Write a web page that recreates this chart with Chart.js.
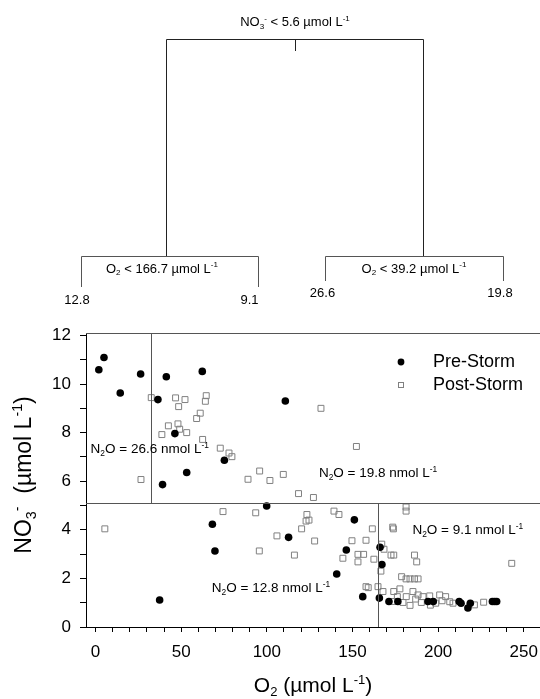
<!DOCTYPE html>
<html><head><meta charset="utf-8">
<script src="https://cdn.jsdelivr.net/npm/chart.js@4.4.1/dist/chart.umd.min.js"></script>
<style>html,body{margin:0;padding:0;background:#fff;}#wrap{width:540px;height:699px;position:relative;}</style>
</head><body><div id="wrap"><canvas id="c" width="540" height="699"></canvas></div>
<script>
// ---- Data ----
const preStormO2  = [1.9,4.9,14.4,26.3,41.3,62.3,36.4,46.3,53.2,39.1,37.4,68.2,69.7,110.8,75.2,99.9,112.7,151.1,146.4,140.8,166.1,167.2,156,165.7,171.3,176.5,194.1,197.2,212.3,213.4,218.8,217.4,231.7,233,234.2];
const preStormNO3 = [10.59,11.09,9.63,10.41,10.3,10.52,9.36,7.96,6.36,5.86,1.11,4.23,3.13,9.3,6.86,4.98,3.69,4.41,3.17,2.18,3.28,2.57,1.25,1.19,1.05,1.05,1.05,1.05,1.05,0.98,0.98,0.78,1.05,1.05,1.05];
const postStormO2  = [32.5,46.7,52.2,48.5,64.6,64.1,61.1,59,42.5,48.1,49.1,38.7,53.2,62.5,72.8,77.9,79.6,26.5,5.4,131.6,152.3,89,95.8,101.8,109.6,118.5,127.2,74.4,93.5,95.6,105.9,116.1,123.4,122.9,124.6,120.3,127.9,139.2,142.1,149.7,144.4,153.2,153.2,181.3,181.3,161.6,173.5,173.9,157.9,167.1,168.4,156.5,162.5,172.5,174.1,186.2,187.5,166.6,243,178.7,181.3,183.6,186.2,188.3,157.9,159.2,164.9,167.8,174.1,177.7,176.2,181.4,183.6,179.5,188.3,190.2,195.1,195.5,200.9,202.3,204.4,206.8,208.7,226.6,221.2,185.3,186.9,198.6,191.2,173.7];
const postStormNO3 = [9.44,9.43,9.36,9.07,9.52,9.29,8.8,8.58,8.28,8.36,8.14,7.92,8.0,7.72,7.36,7.16,7.01,6.07,4.04,9.0,7.43,6.08,6.42,6.03,6.28,5.49,5.33,4.75,4.70,3.13,3.75,2.96,4.63,4.36,4.4,4.04,3.54,4.77,4.63,3.55,2.83,2.99,2.68,4.94,4.77,4.04,4.11,4.04,3.57,3.41,3.2,2.99,2.79,2.96,2.96,2.96,2.68,2.3,2.62,2.07,1.98,1.98,1.98,1.98,1.66,1.62,1.66,1.46,1.46,1.57,1.25,1.25,0.89,1.01,1.32,1.01,1.28,0.9,1.32,1.08,1.25,1.04,0.98,1.02,0.91,1.46,1.15,0.98,1.25,1.05];
const seriesNames = ['Pre-Storm','Post-Storm'];
const xMajorTicks = [0,50,100,150,200,250];
const yMajorTicks = [0,2,4,6,8,10,12];
// split lines drawn in the scatter (as drawn in the picture)
const splitNO3 = 5.1;      // horizontal split
const splitO2High = 32.6;  // vertical split above
const splitO2Low = 165;    // vertical split below
// N2O leaf labels (value, O2 anchor, NO3 anchor)
const leafN2O   = ['26.6','19.8','9.1','12.8'];
const leafAnchX = [-2.9,130.4,185,67.9];
const leafAnchY = [7.35,6.38,4.02,1.64];
// regression tree
const rootSplit = '5.6';
const childSplits = ['166.7','39.2'];
const treeLeaves = ['12.8','9.1','26.6','19.8'];

const FAM = '"Liberation Sans", Arial, Helvetica, sans-serif';

function drawRich(ctx, parts, x, y, size, align) {
  let pos = [];
  let cx = 0, lastSubStart = null;
  parts.forEach(p => {
    const fs = p.s ? size * 0.62 : size;
    ctx.font = fs + 'px ' + FAM;
    const w = ctx.measureText(p.t).width;
    let start = cx;
    if (p.s === 'sup' && p.stack && lastSubStart !== null) { start = lastSubStart; cx = Math.max(cx, start + w); }
    else cx += w;
    if (p.s === 'sub') { lastSubStart = start; }
    pos.push({p, fs, start});
  });
  const total = cx;
  const x0 = align === 'center' ? x - total / 2 : align === 'right' ? x - total : x;
  ctx.textBaseline = 'alphabetic';
  ctx.textAlign = 'left';
  pos.forEach(({p, fs, start}) => {
    ctx.font = fs + 'px ' + FAM;
    const dy = p.s === 'sub' ? size * 0.2 : p.s === 'sup' ? -size * 0.4 : 0;
    ctx.fillText(p.t, x0 + start, y + dy);
  });
  return total;
}

const overlay = {
  id: 'overlay',
  afterDatasetsDraw(chart) {
    const ctx = chart.ctx, xs = chart.scales.x, ys = chart.scales.y, a = chart.chartArea;
    ctx.save();
    ctx.strokeStyle = '#555'; ctx.lineWidth = 1;
    const L = (x1,y1,x2,y2) => { ctx.beginPath(); ctx.moveTo(x1,y1); ctx.lineTo(x2,y2); ctx.stroke(); };
    L(a.left, Math.round(a.top)+0.5, a.right, Math.round(a.top)+0.5);
    const hy = Math.round(ys.getPixelForValue(splitNO3)) + 0.5;
    L(a.left, hy, a.right, hy);
    const vx1 = Math.round(xs.getPixelForValue(splitO2High)) + 0.5;
    L(vx1, a.top, vx1, hy);
    const vx2 = Math.round(xs.getPixelForValue(splitO2Low)) + 0.5;
    L(vx2, hy, vx2, a.bottom);
    // N2O labels
    ctx.fillStyle = '#000';
    leafN2O.forEach((v, i) => {
      const px = xs.getPixelForValue(leafAnchX[i]), py = ys.getPixelForValue(leafAnchY[i]);
      drawRich(ctx, [{t:'N'},{t:'2',s:'sub'},{t:'O = ' + v + ' nmol L'},{t:'-1',s:'sup'}], px, py + 5, 13.5, 'left');
    });
    // legend
    const lx = 401, ly = [362, 385];
    ctx.fillStyle = '#000';
    ctx.beginPath(); ctx.arc(lx, ly[0], 3.4, 0, Math.PI*2); ctx.fill();
    ctx.strokeStyle = '#808080'; ctx.lineWidth = 1;
    ctx.strokeRect(lx - 2.5, ly[1] - 2.5, 5, 5);
    ctx.font = '18px ' + FAM; ctx.textBaseline = 'middle'; ctx.textAlign = 'left'; ctx.fillStyle = '#000';
    ctx.fillText(seriesNames[0], 433, ly[0]);
    ctx.fillText(seriesNames[1], 433, ly[1]);
    // axis titles
    ctx.save();
    ctx.translate(31, 475); ctx.rotate(-Math.PI/2);
    drawRich(ctx, [{t:'NO'},{t:'3',s:'sub'},{t:'-',s:'sup'},{t:'  (\u00b5mol L'},{t:'-1',s:'sup'},{t:')'}], 0, 0, 23, 'center');
    ctx.restore();
    drawRich(ctx, [{t:'O'},{t:'2',s:'sub'},{t:' (\u00b5mol L'},{t:'-1',s:'sup'},{t:')'}], 313, 692, 21, 'center');
    // regression tree
    ctx.strokeStyle = '#222'; ctx.lineWidth = 1;
    L(166.5, 39.5, 423.5, 39.5);
    L(295.5, 39.5, 295.5, 51);
    L(166.5, 39.5, 166.5, 256);
    L(423.5, 39.5, 423.5, 256);
    ctx.strokeStyle = '#555';
    L(81.5, 256.5, 258.5, 256.5); L(81.5, 256.5, 81.5, 287); L(258.5, 256.5, 258.5, 287);
    L(325.5, 256.5, 503.5, 256.5); L(325.5, 256.5, 325.5, 281); L(503.5, 256.5, 503.5, 281);
    ctx.fillStyle = '#000';
    drawRich(ctx, [{t:'NO'},{t:'3',s:'sub'},{t:'-',s:'sup'},{t:' < ' + rootSplit + ' \u00b5mol L'},{t:'-1',s:'sup'}], 295, 26, 13, 'center');
    drawRich(ctx, [{t:'O'},{t:'2',s:'sub'},{t:' < ' + childSplits[0] + ' \u00b5mol L'},{t:'-1',s:'sup'}], 162, 272.5, 13, 'center');
    drawRich(ctx, [{t:'O'},{t:'2',s:'sub'},{t:' < ' + childSplits[1] + ' \u00b5mol L'},{t:'-1',s:'sup'}], 414, 272.5, 13, 'center');
    ctx.font = '13px ' + FAM; ctx.textAlign = 'center'; ctx.textBaseline = 'middle';
    ctx.fillText(treeLeaves[0], 77, 300);
    ctx.fillText(treeLeaves[1], 249.5, 300);
    ctx.fillText(treeLeaves[2], 322.5, 293);
    ctx.fillText(treeLeaves[3], 500, 293);
    ctx.restore();
  }
};

const toPts = (xs, ys) => xs.map((x, i) => ({x, y: ys[i]}));

new Chart(document.getElementById('c'), {
  type: 'scatter',
  data: {
    datasets: [
      { label: seriesNames[0], data: toPts(preStormO2, preStormNO3), pointStyle: 'circle', pointRadius: 3.8, pointHoverRadius: 3.8,
        backgroundColor: '#000', borderColor: '#000', borderWidth: 0, order: 0 },
      { label: seriesNames[1], data: toPts(postStormO2, postStormNO3), pointStyle: 'rect', pointRadius: 4.2, pointHoverRadius: 4.2,
        backgroundColor: 'rgba(255,255,255,0)', borderColor: '#808080', borderWidth: 1, order: 1 }
    ]
  },
  options: {
    responsive: false, animation: false, devicePixelRatio: 1,
    layout: { autoPadding: false, padding: { top: 333, left: 0, right: 0, bottom: 0 } },
    plugins: { legend: { display: false }, tooltip: { enabled: false } },
    scales: {
      x: {
        type: 'linear', min: -5.6, max: 259.5,
        afterFit: s => { s.height = 72; s.paddingLeft = 0; s.paddingRight = 0; },
        border: { display: true, color: '#000', width: 1 },
        grid: { drawOnChartArea: false, drawTicks: true, tickLength: 5, color: '#000' },
        ticks: { stepSize: 10, includeBounds: false, autoSkip: false, maxRotation: 0, padding: 10, color: '#000',
          font: { family: FAM, size: 17 },
          callback: v => xMajorTicks.includes(v) ? String(v) : '' }
      },
      y: {
        type: 'linear', min: 0, max: 12.1,
        afterFit: s => { s.width = 86; },
        border: { display: true, color: '#000', width: 1 },
        grid: { drawOnChartArea: false, drawTicks: true, tickLength: 6, color: '#000' },
        ticks: { stepSize: 1, includeBounds: false, autoSkip: false, padding: 9, color: '#000',
          font: { family: FAM, size: 17 },
          callback: v => yMajorTicks.includes(v) ? String(v) : '' }
      }
    }
  },
  plugins: [overlay]
});
</script></body></html>
